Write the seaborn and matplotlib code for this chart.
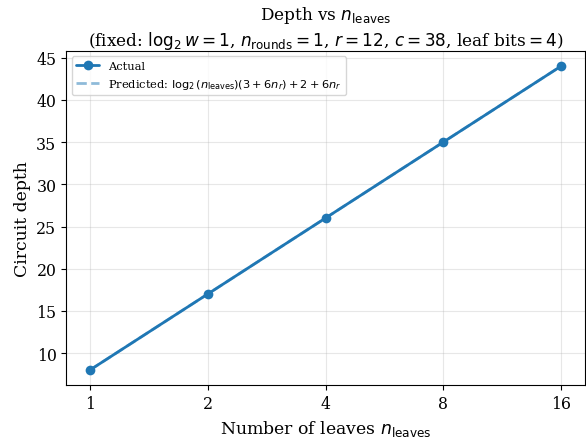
import matplotlib
matplotlib.use("Agg")
import matplotlib.pyplot as plt
import seaborn as sns
import numpy as np
import pandas as pd

n_leaves = [1, 2, 4, 8, 16]
actual_depth = [8, 17, 26, 35, 44]
predicted_depth = [8, 17, 26, 35, 44]
tick_labels = ["1", "2", "4", "8", "16"]

sns.set_style("ticks")
plt.rcParams['font.family'] = ['DejaVu Serif']
plt.rcParams['mathtext.fontset'] = 'dejavusans'
plt.rcParams.update({
    "text.color": "black", "axes.labelcolor": "black",
    "xtick.color": "black", "ytick.color": "black",
    "axes.edgecolor": "black",
    "xtick.major.size": 3.5, "ytick.major.size": 3.5,
    "xtick.major.width": 0.8, "ytick.major.width": 0.8,
    "axes.linewidth": 0.8,
})

fig, ax = plt.subplots(figsize=(5.86, 4.39), dpi=100)
df = pd.DataFrame({"n": n_leaves, "actual": actual_depth, "pred": predicted_depth})

sns.lineplot(data=df, x="n", y="actual", marker="o", markersize=7, linewidth=2,
             color="#1f77b4", markeredgewidth=0, label="Actual", ax=ax, zorder=3)
sns.lineplot(data=df, x="n", y="pred", linestyle="--", linewidth=2, color="#1f77b4",
             alpha=0.5, label=r"Predicted: $\log_2(n_{\mathrm{leaves}})(3+6n_r)+2+6n_r$",
             ax=ax, zorder=2)

ax.set_xscale("log", base=2)
ax.set_xticks(n_leaves)
ax.set_xticklabels(tick_labels)
ax.minorticks_off()
ax.tick_params(labelsize=11.3)
ax.grid(True, color="#b0b0b0", alpha=0.3, linewidth=0.8)
ax.set_xlabel(r"Number of leaves $n_{\mathrm{leaves}}$", fontsize=12.4)
ax.set_ylabel("Circuit depth", fontsize=12.4)
ax.set_title("Depth vs $n_{\\mathrm{leaves}}$\n(fixed: $\\log_2 w=1$, $n_{\\mathrm{rounds}}=1$, $r=12$, $c=38$, leaf bits$=4$)",
             fontsize=12.2, pad=4.5)
ax.legend(loc="upper left", fontsize=8.2)

fig.subplots_adjust(left=0.113, right=0.998, top=0.882, bottom=0.12)
fig.savefig("out.png", dpi=100)
